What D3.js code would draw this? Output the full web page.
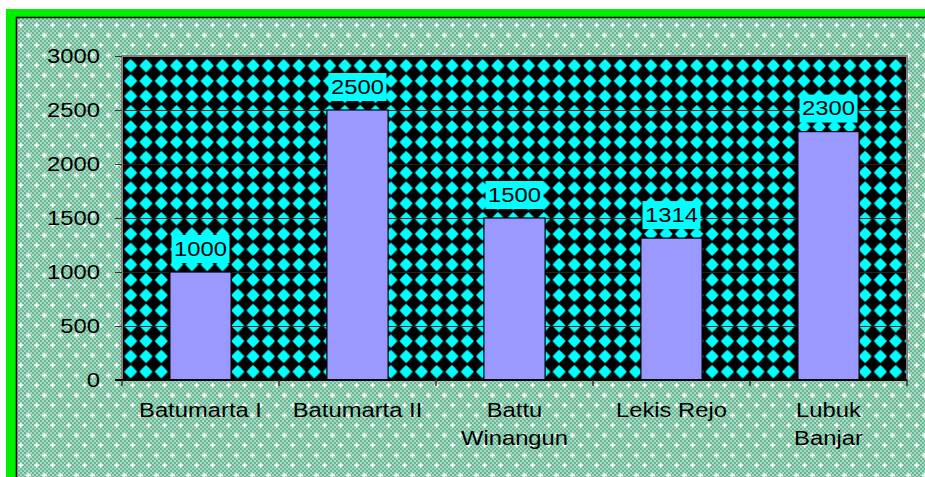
<!DOCTYPE html>
<html><head><meta charset="utf-8">
<script src="https://cdn.jsdelivr.net/npm/d3@7"></script>
<style>html,body{margin:0;padding:0;background:#fff;overflow:hidden}</style>
</head><body>
<svg id="c" width="925" height="477"></svg>
<script>
const categories = [["Batumarta I"], ["Batumarta II"], ["Battu", "Winangun"], ["Lekis Rejo"], ["Lubuk", "Banjar"]];
const values = [1000, 2500, 1500, 1314, 2300];
const yTicks = [0, 500, 1000, 1500, 2000, 2500, 3000];

const FONT = "Liberation Sans, Arial, sans-serif";
const SX = 1.22; // horizontal text stretch seen in the reference

const svg = d3.select("#c");
const defs = svg.append("defs");

// outer background pattern: green dither with white pluses
const bg = defs.append("pattern").attr("id", "bgp").attr("patternUnits", "userSpaceOnUse")
  .attr("width", 16).attr("height", 20).attr("x", 0).attr("y", 0);
bg.append("rect").attr("width", 16).attr("height", 20).attr("fill", "#acd9c4");
for (let i = 0; i < 8; i++) for (let j = 0; j < 10; j++) {
  if ((i + j) % 2 === 0) bg.append("rect").attr("x", i * 2).attr("y", j * 2).attr("width", 2).attr("height", 2).attr("fill", "#66b894");
}
[[4, 5], [12, 15]].forEach(([cx, cy]) => {
  bg.append("rect").attr("x", cx - 2).attr("y", cy - 0.5).attr("width", 5).attr("height", 1.6).attr("fill", "#fff");
  bg.append("rect").attr("x", cx - 0.3).attr("y", cy - 2.2).attr("width", 1.6).attr("height", 5).attr("fill", "#fff");
});

// plot area pattern: cyan diamonds on black
const ps = 15.3;
const dp = defs.append("pattern").attr("id", "dia").attr("patternUnits", "userSpaceOnUse")
  .attr("width", ps).attr("height", ps).attr("x", 122 + 8.7 - ps / 2).attr("y", 56 + 9.7 - ps / 2);
dp.append("rect").attr("width", ps).attr("height", ps).attr("fill", "#000");
const c = ps / 2, r = 6.6, k = 0.25;
dp.append("path").attr("fill", "#00ffff")
  .attr("d", `M${c},${c - r} Q${c + r / 2 + k},${c - r / 2 - k} ${c + r},${c} Q${c + r / 2 + k},${c + r / 2 + k} ${c},${c + r} Q${c - r / 2 - k},${c + r / 2 + k} ${c - r},${c} Q${c - r / 2 - k},${c - r / 2 - k} ${c},${c - r}Z`);

// green frame
svg.append("rect").attr("x", 6).attr("y", 9).attr("width", 930).attr("height", 480).attr("fill", "#00ee00");
svg.append("rect").attr("x", 16.5).attr("y", 17.5).attr("width", 920).attr("height", 470).attr("fill", "url(#bgp)")
  .attr("stroke", "#000").attr("stroke-width", 1.5);

const m = { left: 122, top: 56, right: 907, bottom: 380 };
const x = d3.scaleBand().domain(d3.range(categories.length)).range([m.left, m.right]).padding(0);
const y = d3.scaleLinear().domain([0, 3000]).range([m.bottom, m.top]);

// plot area
svg.append("rect").attr("x", m.left).attr("y", m.top).attr("width", m.right - m.left).attr("height", m.bottom - m.top)
  .attr("fill", "url(#dia)");

// gridlines
svg.append("g").selectAll("line").data(yTicks.filter(t => t > 0 && t < 3000)).join("line")
  .attr("x1", m.left).attr("x2", m.right).attr("y1", d => Math.round(y(d)) + 0.5).attr("y2", d => Math.round(y(d)) + 0.5)
  .attr("stroke", "#222").attr("stroke-width", 1);

// border
svg.append("path").attr("fill", "none").attr("stroke", "#808080").attr("stroke-width", 2)
  .attr("d", `M${m.left},${m.bottom} V${m.top} H${m.right} V${m.bottom}`);

// bars
const bw = x.bandwidth() * 0.39;
svg.append("g").selectAll("rect").data(values).join("rect")
  .attr("x", (d, i) => x(i) + (x.bandwidth() - bw) / 2).attr("width", bw)
  .attr("y", d => y(d)).attr("height", d => y(0) - y(d))
  .attr("fill", "#9999ff").attr("stroke", "#000").attr("stroke-width", 1.2);

// y axis (ticks via d3 axis, labels stretched)
const ya = svg.append("g").attr("transform", `translate(${m.left},0)`)
  .call(d3.axisLeft(y).tickValues(yTicks).tickSize(7).tickFormat(d3.format("d")));
ya.select(".domain").remove();
ya.selectAll(".tick line").attr("stroke", "#333");
ya.selectAll(".tick text").remove();
svg.append("g").selectAll("text").data(yTicks).join("text")
  .attr("transform", d => `translate(100,${y(d)}) scale(${SX},1)`)
  .attr("dy", "0.35em").attr("text-anchor", "end")
  .attr("font-family", FONT).attr("font-size", 19.5).attr("fill", "#000").text(d => d3.format("d")(d));

// x axis line & ticks
svg.append("line").attr("x1", m.left - 7).attr("x2", m.right).attr("y1", m.bottom).attr("y2", m.bottom)
  .attr("stroke", "#000").attr("stroke-width", 2);
const bounds = d3.range(categories.length + 1).map(i => i < categories.length ? x(i) : m.right);
svg.append("g").selectAll("line").data(bounds).join("line")
  .attr("x1", d => d).attr("x2", d => d).attr("y1", m.bottom).attr("y2", m.bottom + 6)
  .attr("stroke", "#333").attr("stroke-width", 1.5);

// x labels
const xl = svg.append("g").selectAll("text").data(categories).join("text")
  .attr("transform", (d, i) => `translate(${x(i) + x.bandwidth() / 2},417) scale(${SX},1)`)
  .attr("text-anchor", "middle").attr("font-family", FONT).attr("font-size", 19.5).attr("fill", "#000");
xl.selectAll("tspan").data(d => d).join("tspan")
  .attr("x", 0).attr("dy", (d, i) => i === 0 ? 0 : 28.5).text(d => d);

// data labels
const lg = svg.append("g").selectAll("g").data(values).join("g")
  .attr("transform", (d, i) => `translate(${x(i) + x.bandwidth() / 2},${y(d) - 9})`);
lg.append("rect").attr("x", -29).attr("y", -28).attr("width", 58).attr("height", 28).attr("fill", "#00ffff");
lg.append("text").attr("transform", `translate(0,-14) scale(${SX},1)`).attr("dy", "0.35em").attr("text-anchor", "middle")
  .attr("font-family", FONT).attr("font-size", 19.5).attr("fill", "#000").text(d => d);
</script>
</body></html>
